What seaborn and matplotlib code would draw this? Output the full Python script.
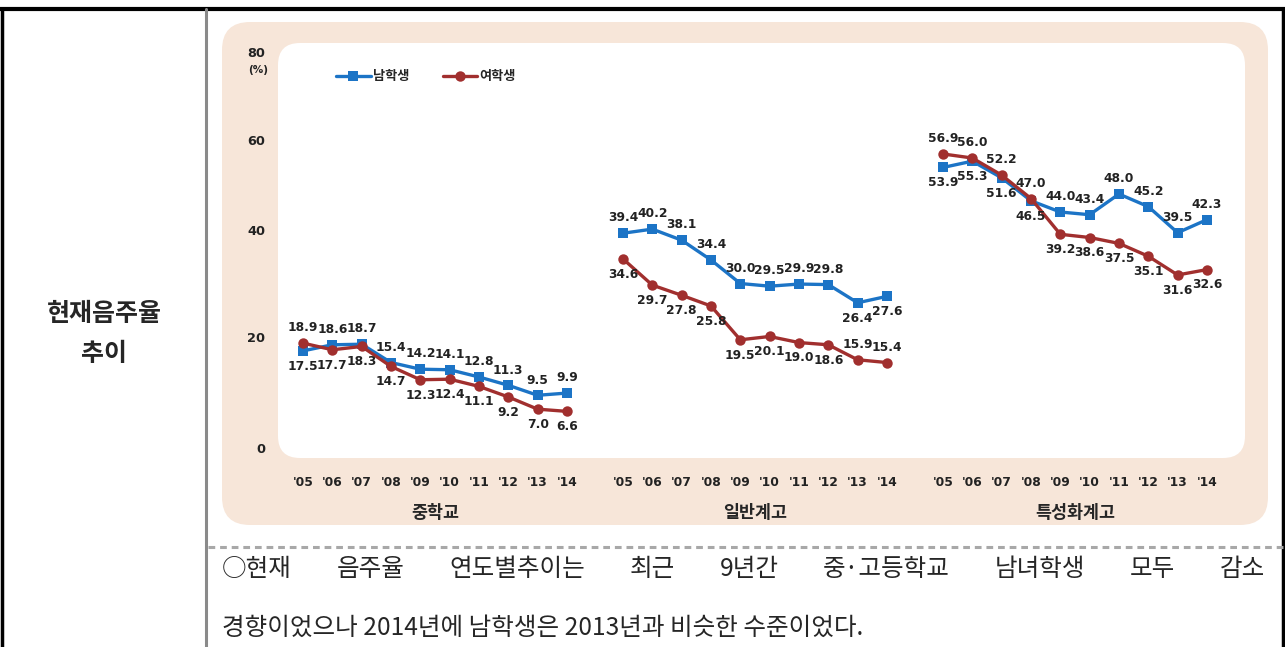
import numpy as np
import pandas as pd
import seaborn as sns
import matplotlib.pyplot as plt
from matplotlib.patches import FancyBboxPatch
from matplotlib.lines import Line2D
from matplotlib.transforms import Affine2D


# 1. Data

years = ["'05", "'06", "'07", "'08", "'09", "'10", "'11", "'12", "'13", "'14"]
schools = ["중학교", "일반계고", "특성화계고"]

male_mid = [17.5, 18.6, 18.7, 15.4, 14.2, 14.1, 12.8, 11.3, 9.5, 9.9]
female_mid = [18.9, 17.7, 18.3, 14.7, 12.3, 12.4, 11.1, 9.2, 7.0, 6.6]
male_gen = [39.4, 40.2, 38.1, 34.4, 30.0, 29.5, 29.9, 29.8, 26.4, 27.6]
female_gen = [34.6, 29.7, 27.8, 25.8, 19.5, 20.1, 19.0, 18.6, 15.9, 15.4]
male_voc = [53.9, 55.3, 51.6, 46.5, 44.0, 43.4, 48.0, 45.2, 39.5, 42.3]
female_voc = [56.9, 56.0, 52.2, 47.0, 39.2, 38.6, 37.5, 35.1, 31.6, 32.6]

# which side of the marker each value label sits on (1 above, -1 below)
male_side = [-1, 1, 1, 1, 1, 1, 1, 1, 1, 1,
             1, 1, 1, 1, 1, 1, 1, 1, -1, -1,
             -1, -1, -1, -1, 1, 1, 1, 1, 1, 1]
female_side = [1, -1, -1, -1, -1, -1, -1, -1, -1, -1,
               -1, -1, -1, -1, -1, -1, -1, -1, 1, 1,
               1, 1, 1, 1, -1, -1, -1, -1, -1, -1]

y_ticks = [0, 20, 40, 60, 80]

# 2. Long table for seaborn

GROUP_STEP = 10.91  # x distance between school groups
rows = []
series = {"남학생": [male_mid, male_gen, male_voc],
          "여학생": [female_mid, female_gen, female_voc]}
for sex, groups in series.items():
    for g, (school, vals) in enumerate(zip(schools, groups)):
        for i, v in enumerate(vals):
            rows.append({"pos": g * GROUP_STEP + i, "value": v,
                         "sex": sex, "school": school})
df = pd.DataFrame(rows)

# 3. Figure and page furniture (pixel coordinates, origin top-left)

sns.set_style("white")
plt.rcParams["font.family"] = ["DejaVu Sans", "Noto Sans CJK KR"]

W, H = 1285, 647
fig = plt.figure(figsize=(W / 100, H / 100), dpi=100)
pix = Affine2D().scale(1, -1).translate(0, H).scale(1 / 100) + fig.dpi_scale_trans

beige = "#F7E6D9"
fig.add_artist(FancyBboxPatch((222, 22), 1046, 503,
                              boxstyle="round,pad=0,rounding_size=28",
                              transform=pix, fc=beige, ec="none", zorder=-3))
fig.add_artist(FancyBboxPatch((278, 43), 967, 415,
                              boxstyle="round,pad=0,rounding_size=22",
                              transform=pix, fc="white", ec="none", zorder=-2))

fig.add_artist(Line2D([0, W], [9, 9], transform=pix, color="black", lw=3))
fig.add_artist(Line2D([1.5, 1.5], [9, H], transform=pix, color="black", lw=2.5))
fig.add_artist(Line2D([1282.5, 1282.5], [9, H], transform=pix, color="black", lw=2.5))
fig.add_artist(Line2D([206, 206], [9, H], transform=pix, color="#8a8a8a", lw=2.2))
fig.add_artist(Line2D([208, W], [547, 547], transform=pix, color="#a8a8a8",
                      lw=2.2, linestyle=(0, (2.2, 1.6))))

cjk = ["Noto Sans CJK KR", "DejaVu Sans"]
fig.text(104, 314, "현재음주율", transform=pix, ha="center", va="center",
         fontsize=18, family=cjk, weight="bold")
fig.text(104, 354, "추이", transform=pix, ha="center", va="center",
         fontsize=18, family=cjk, weight="bold")

# 4. Chart axes with the uneven y spacing of the original

knots_v = [-20, 0, 20, 40, 60, 80, 100]
knots_p = [-111, 0, 111, 218, 308, 396, 484]


def fwd(v):
    return np.interp(v, knots_v, knots_p)


def inv(p):
    return np.interp(p, knots_p, knots_v)


ax = fig.add_axes([278 / W, 1 - 458 / H, 967 / W, 415 / H])
ax.set_facecolor("none")
ax.set_yscale("function", functions=(fwd, inv))

palette = {"남학생": "#1C74C6", "여학생": "#A12F2E"}
sns.lineplot(data=df, x="pos", y="value", hue="sex", style="sex",
             units="school", estimator=None, sort=False,
             palette=palette, markers={"남학생": "s", "여학생": "o"},
             dashes=False, linewidth=2.4, markersize=7.5,
             markeredgewidth=0, ax=ax)

ax.set_xlim(-25 / 29.33, (1245 - 303) / 29.33)
ax.set_ylim(-1.8, 82.05)
for s in ax.spines.values():
    s.set_visible(False)

pos_all = [g * GROUP_STEP + i for g in range(3) for i in range(len(years))]
ax.set_xticks(pos_all, years * 3)
ax.set_yticks(y_ticks, [str(t) for t in y_ticks])
ax.tick_params(axis="x", length=0, pad=13, labelsize=8.8)
ax.tick_params(axis="y", length=0, pad=9, labelsize=9.3)
for lab in ax.get_xticklabels() + ax.get_yticklabels():
    lab.set_fontweight("bold")
    lab.set_color("#222222")
ax.set_xlabel("")
ax.set_ylabel("")
fig.text(258, 70, "(%)", transform=pix, ha="center", va="center",
         fontsize=7.5, weight="bold", color="#222222")

for g, school in enumerate(schools):
    ax.text(g * GROUP_STEP + 4.5, -0.1325, school, transform=ax.get_xaxis_transform(),
            ha="center", va="center", fontsize=12.5, weight="bold", family=cjk)

# value labels
male_all = male_mid + male_gen + male_voc
female_all = female_mid + female_gen + female_voc
for vals, sides in [(male_all, male_side), (female_all, female_side)]:
    for x, v, sd in zip(pos_all, vals, sides):
        ax.annotate(f"{v:.1f}", (x, v), xytext=(0, 11 * sd), textcoords="offset points",
                    ha="center", va="center", fontsize=8.8, weight="bold", color="#222222")

sns.move_legend(ax, "upper left", bbox_to_anchor=(0.048, 0.965), ncol=2,
                frameon=False, title=None, handlelength=2.6, columnspacing=2.5,
                handletextpad=0.2, prop={"family": cjk, "size": 9.5, "weight": "bold"})

# 5. Paragraph under the chart (first line justified)

words = ["○현재", "음주율", "연도별추이는", "최근", "9년간",
         "중·고등학교", "남녀학생", "모두", "감소"]
renderer = fig.canvas.get_renderer()
objs = [fig.text(0, 569, w, transform=pix, ha="left", va="center",
                 fontsize=17.7, family=cjk) for w in words]
widths = [o.get_window_extent(renderer).width for o in objs]
gap = (1265 - 222 - sum(widths)) / (len(words) - 1)
x = 222
for o, w in zip(objs, widths):
    o.set_x(x)
    x += w + gap
fig.text(222, 628, "경향이었으나 2014년에 남학생은 2013년과 비슷한 수준이었다.",
         transform=pix, ha="left", va="center", fontsize=17.7, family=cjk)

fig.savefig("out.png", dpi=100)
